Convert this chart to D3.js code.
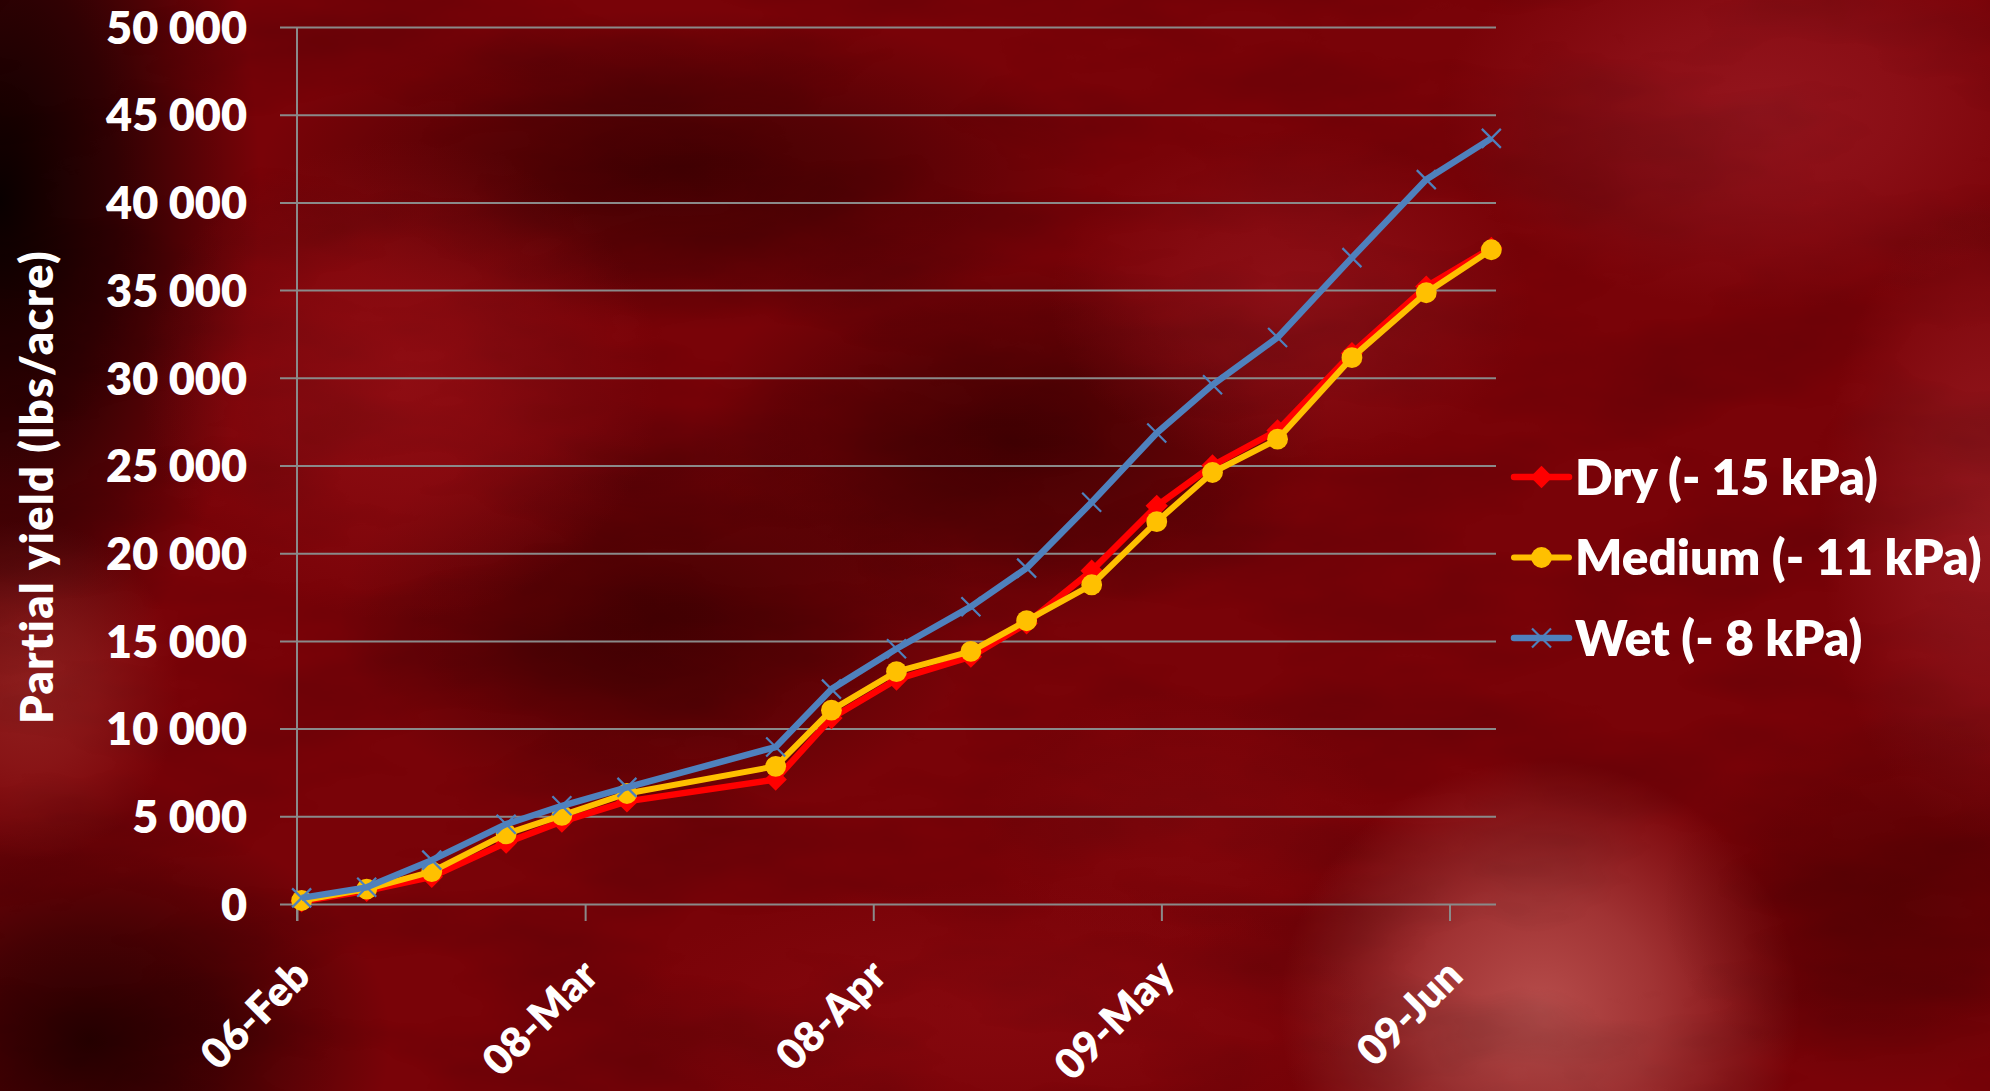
<!DOCTYPE html>
<html>
<head>
<meta charset="utf-8">
<script src="https://cdn.jsdelivr.net/npm/d3@7"></script>
<style>
  html, body { margin: 0; padding: 0; background: #6d0005; overflow: hidden; }
  svg { display: block; }
  text { font-family: Lato, "Open Sans", sans-serif; font-weight: 800; fill: #ffffff; }
</style>
</head>
<body>
<svg id="chart" width="1990" height="1091"></svg>
<script>
// sampling dates (leap year, measured around midday)
var dates = ["2012-02-06", "2012-02-13", "2012-02-20", "2012-02-28", "2012-03-05", "2012-03-12",
             "2012-03-28", "2012-04-03", "2012-04-10", "2012-04-18", "2012-04-24", "2012-05-01",
             "2012-05-08", "2012-05-14", "2012-05-21", "2012-05-29", "2012-06-06", "2012-06-13"];

var dry    = [150, 750, 1550, 3500, 4700, 5850, 7100, 10600, 12800, 14100, 16000, 19000,
              22700, 25000, 27000, 31400, 35200, 37400];
var medium = [200, 850, 1850, 4000, 5050, 6300, 7850, 11050, 13250, 14400, 16150, 18200,
              21800, 24600, 26500, 31150, 34850, 37300];
var wet    = [350, 950, 2500, 4550, 5600, 6650, 8950, 12250, 14550, 16950, 19150, 22900,
              26850, 29600, 32300, 36850, 41300, 43650];

var seriesNames = ["Dry (- 15 kPa)", "Medium (- 11 kPa)", "Wet (- 8 kPa)"];
var xTickDates = ["2012-02-06", "2012-03-08", "2012-04-08", "2012-05-09", "2012-06-09"];
var xDomain = ["2012-02-06", "2012-06-14"];
var yTicks = [0, 5000, 10000, 15000, 20000, 25000, 30000, 35000, 40000, 45000, 50000];
var yTitle = "Partial yield (lbs/acre)";

function init() {
    var w = 1990;
    var h = 1091;
    var left = 297, right = 1496, top = 27, bottom = 904;

    var parseDay = d3.utcParse("%Y-%m-%d");
    function atNoon(s) { return d3.utcHour.offset(parseDay(s), 12); }

    var svg = d3.select("#chart");
    var defs = svg.append("defs");

    //----- background: soft blobs made with radial gradients -----
    svg.append("rect").attr("width", w).attr("height", h).attr("fill", "#790308");

    var blobs = [
        {x: 0,    y: 200,  rx: 260, ry: 520, c: "#0a0000", o: 1.0},
        {x: 90,   y: 1040, rx: 300, ry: 230, c: "#1a0000", o: 0.85},
        {x: 30,   y: 690,  rx: 150, ry: 170, c: "#a0302c", o: 0.6},
        {x: 680,  y: 170,  rx: 420, ry: 160, c: "#260000", o: 0.65},
        {x: 1010, y: 440,  rx: 320, ry: 190, c: "#280000", o: 0.65},
        {x: 660,  y: 620,  rx: 320, ry: 200, c: "#2c0000", o: 0.65},
        {x: 400,  y: 380,  rx: 260, ry: 240, c: "#a0151b", o: 0.55},
        {x: 1290, y: 300,  rx: 240, ry: 170, c: "#9e1a22", o: 0.55},
        {x: 1760, y: 110,  rx: 320, ry: 200, c: "#a21e28", o: 0.65},
        {x: 1990, y: 520,  rx: 170, ry: 320, c: "#a6252c", o: 0.6},
        {x: 1540, y: 1010, rx: 260, ry: 250, c: "#c15a57", o: 0.85},
        {x: 1900, y: 900,  rx: 240, ry: 190, c: "#3a0000", o: 0.5},
        {x: 1000, y: 1010, rx: 380, ry: 130, c: "#900c12", o: 0.55},
        {x: 1180, y: 820,  rx: 200, ry: 130, c: "#8e0b10", o: 0.45}
    ];
    blobs.forEach(function(b, i) {
        var g = defs.append("radialGradient").attr("id", "blob" + i);
        g.append("stop").attr("offset", "0%").attr("stop-color", b.c).attr("stop-opacity", b.o);
        g.append("stop").attr("offset", "45%").attr("stop-color", b.c).attr("stop-opacity", b.o * 0.65);
        g.append("stop").attr("offset", "100%").attr("stop-color", b.c).attr("stop-opacity", 0);
    });
    svg.append("g")
        .selectAll("ellipse").data(blobs).enter().append("ellipse")
        .attr("cx", function(d) { return d.x; })
        .attr("cy", function(d) { return d.y; })
        .attr("rx", function(d) { return d.rx; })
        .attr("ry", function(d) { return d.ry; })
        .attr("fill", function(d, i) { return "url(#blob" + i + ")"; });

    // faint cloudy texture
    var clouds = defs.append("filter").attr("id", "clouds")
        .attr("x", 0).attr("y", 0).attr("width", "100%").attr("height", "100%");
    clouds.append("feTurbulence")
        .attr("type", "fractalNoise")
        .attr("baseFrequency", "0.004 0.01")
        .attr("numOctaves", 4)
        .attr("seed", 11);
    clouds.append("feColorMatrix")
        .attr("type", "matrix")
        .attr("values", "0 0 0 0 0  0 0 0 0 0  0 0 0 0 0  -1.3 0 0 0 0.8");
    svg.append("rect").attr("width", w).attr("height", h)
        .attr("filter", "url(#clouds)").attr("opacity", 0.22);

    //----- scales -----
    var xScale = d3.scaleUtc()
        .domain(xDomain.map(parseDay))
        .range([left, right]);

    var yScale = d3.scaleLinear()
        .domain([0, 50000])
        .range([bottom, top]);

    var fmt = d3.formatLocale({decimal: ".", thousands: " ", grouping: [3], currency: ["", ""]}).format(",d");

    //----- grid + axes -----
    var yAxis = d3.axisLeft(yScale)
        .tickValues(yTicks)
        .tickSize(0)
        .tickFormat(fmt);

    var gy = svg.append("g")
        .attr("transform", "translate(" + (left - 17) + ",0)")
        .call(yAxis);
    gy.select(".domain").remove();
    gy.selectAll(".tick line")
        .attr("x1", 0).attr("x2", right - left + 17)
        .attr("stroke", "#8a8a8a").attr("stroke-width", 2);
    gy.selectAll(".tick text")
        .attr("x", -33)
        .style("font-size", "45px")
        .attr("dy", "0.36em");

    // vertical axis line
    svg.append("line")
        .attr("x1", left).attr("x2", left)
        .attr("y1", top).attr("y2", bottom + 17)
        .attr("stroke", "#8a8a8a").attr("stroke-width", 2);

    var xAxis = d3.axisBottom(xScale)
        .tickValues(xTickDates.map(parseDay))
        .tickSize(17)
        .tickFormat(d3.utcFormat("%d-%b"));

    var gx = svg.append("g")
        .attr("transform", "translate(0," + bottom + ")")
        .call(xAxis);
    gx.select(".domain").remove();
    gx.selectAll(".tick line").attr("stroke", "#8a8a8a").attr("stroke-width", 2);
    gx.selectAll(".tick text")
        .style("font-size", "42px")
        .attr("text-anchor", "end")
        .attr("dy", null)
        .attr("y", 0)
        .attr("transform", "translate(15,74) rotate(-45)");

    svg.selectAll(".tick text").attr("fill", "#ffffff");

    // y title
    svg.append("text")
        .attr("transform", "translate(53,487) rotate(-90)")
        .attr("text-anchor", "middle")
        .style("font-size", "45px")
        .style("letter-spacing", "1.5px")
        .text(yTitle);

    //----- series -----
    var series = [
        {name: seriesNames[0], values: dry,    color: "#ff0000", marker: "diamond", width: 6.5},
        {name: seriesNames[1], values: medium, color: "#ffc000", marker: "circle",  width: 6},
        {name: seriesNames[2], values: wet,    color: "#4f81bd", marker: "x",       width: 6.5}
    ];

    var line = d3.line()
        .x(function(d) { return xScale(d.date); })
        .y(function(d) { return yScale(d.value); });

    var diamond = d3.symbol().type(d3.symbolSquare).size(250)();
    var circle = d3.symbol().type(d3.symbolCircle).size(340)();
    var cross = "M-9.5,-9.5L9.5,9.5M-9.5,9.5L9.5,-9.5";

    function drawMarker(sel, s) {
        if (s.marker === "diamond") {
            sel.append("path").attr("d", diamond).attr("fill", s.color)
                .attr("transform", "rotate(45)");
        } else if (s.marker === "circle") {
            sel.append("path").attr("d", circle).attr("fill", s.color);
        } else {
            sel.append("path").attr("d", cross).attr("fill", "none")
                .attr("stroke", s.color).attr("stroke-width", 2.2);
        }
    }

    series.forEach(function(s) {
        var pts = dates.map(function(d, i) { return {date: atNoon(d), value: s.values[i]}; });
        var g = svg.append("g").attr("class", "series");
        g.append("path")
            .datum(pts)
            .attr("d", line)
            .attr("fill", "none")
            .attr("stroke", s.color)
            .attr("stroke-width", s.width)
            .attr("stroke-linejoin", "round");
        g.selectAll("g.pt").data(pts).enter().append("g")
            .attr("class", "pt")
            .attr("transform", function(d) { return "translate(" + xScale(d.date) + "," + yScale(d.value) + ")"; })
            .each(function() { drawMarker(d3.select(this), s); });
    });

    //----- legend -----
    var legend = svg.append("g").attr("transform", "translate(1514,477)");
    var items = legend.selectAll("g").data(series).enter().append("g")
        .attr("transform", function(d, i) { return "translate(0," + i * 80.5 + ")"; });
    items.append("line")
        .attr("x1", 0).attr("x2", 55)
        .attr("stroke", function(d) { return d.color; })
        .attr("stroke-width", function(d) { return d.width; })
        .attr("stroke-linecap", "round");
    items.append("g").attr("transform", "translate(27.5,0)")
        .each(function(d) { drawMarker(d3.select(this), d); });
    items.append("text")
        .attr("x", 61)
        .attr("dy", "0.36em")
        .style("font-size", "49.5px")
        .text(function(d) { return d.name; });
}
window.onload = init;
</script>
</body>
</html>
